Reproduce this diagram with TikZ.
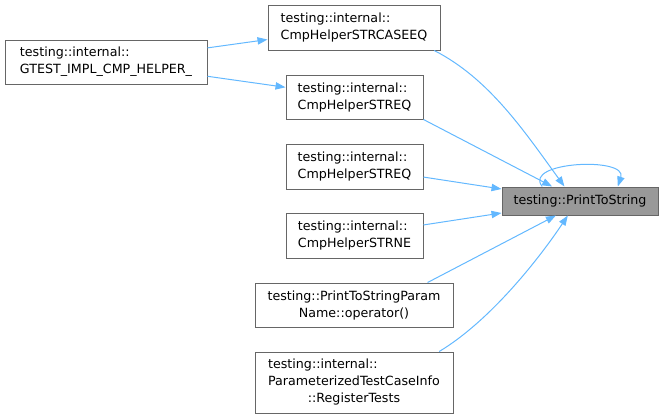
\documentclass[tikz,border=0pt]{standalone}
\usepackage{fontspec}
\setmainfont{DejaVu Sans}
\usetikzlibrary{arrows.meta}

\definecolor{edgeblue}{HTML}{63B8FF}
\definecolor{boxgray}{HTML}{666666}
\definecolor{hlgray}{HTML}{999999}

\begin{document}
\begin{tikzpicture}[
  box/.style={draw=boxgray,fill=white,line width=0.75pt,align=left,minimum height=33pt},
  hl/.style={box,fill=hlgray,minimum width=117pt,minimum height=21pt},
  edge/.style={-{Triangle[length=7.5pt,width=5.5pt]},edgeblue,line width=0.75pt},
  every node/.style={font=\fontsize{9.5}{12.75}\selectfont},
  x=0.75pt,y=-0.75pt
]
  \useasboundingbox (0,0) rectangle (664,419);
  \node[hl] (pts) at (580,201) {testing::PrintToString};
  \node[box,minimum width=151.5pt] (gtest) at (106,62) {testing::internal::\\GTEST\_IMPL\_CMP\_HELPER\_};
  \node[box,minimum width=129pt,minimum height=33.75pt] (strcase) at (354,27.5) {testing::internal::\\CmpHelperSTRCASEEQ};
  \node[box,minimum width=102.75pt] (streqa) at (354.5,97) {testing::internal::\\CmpHelperSTREQ};
  \node[box,minimum width=102.75pt,minimum height=33.75pt] (streqb) at (354.5,166.5) {testing::internal::\\CmpHelperSTREQ};
  \node[box,minimum width=102.75pt,minimum height=33.75pt] (strne) at (354.5,235.5) {testing::internal::\\CmpHelperSTRNE};
  \node[box,align=center,minimum width=148.5pt] (param) at (354,305) {testing::PrintToStringParam\\Name::operator()};
  \node[box,minimum width=148.5pt,minimum height=45.75pt] (register) at (354,382.5)
    {\begin{tabular}{@{}l@{}}testing::internal::\\ParameterizedTestCaseInfo\\\multicolumn{1}{@{}c@{}}{::RegisterTests}\end{tabular}};
  % callers of the helper macro
  \draw[edge] (gtest) -- (strcase);
  \draw[edge] (gtest) -- (streqa);
  % callers of PrintToString
  \draw[edge] (strcase.-16) .. controls +(55,28) and +(-40,-55) .. (pts.137);
  \draw[edge] (streqa.south east) -- (pts);
  \foreach \src in {streqb,strne}
    \draw[edge] (\src) -- (pts);
  \draw[edge] (param.17) -- (pts.211);
  \draw[edge] (register.20) .. controls +(50,-30) and +(-30,45) .. (pts.230);
  \draw[edge] (pts.159) .. controls +(-20,-25) and +(10,-30) .. (pts.21);
\end{tikzpicture}
\end{document}
